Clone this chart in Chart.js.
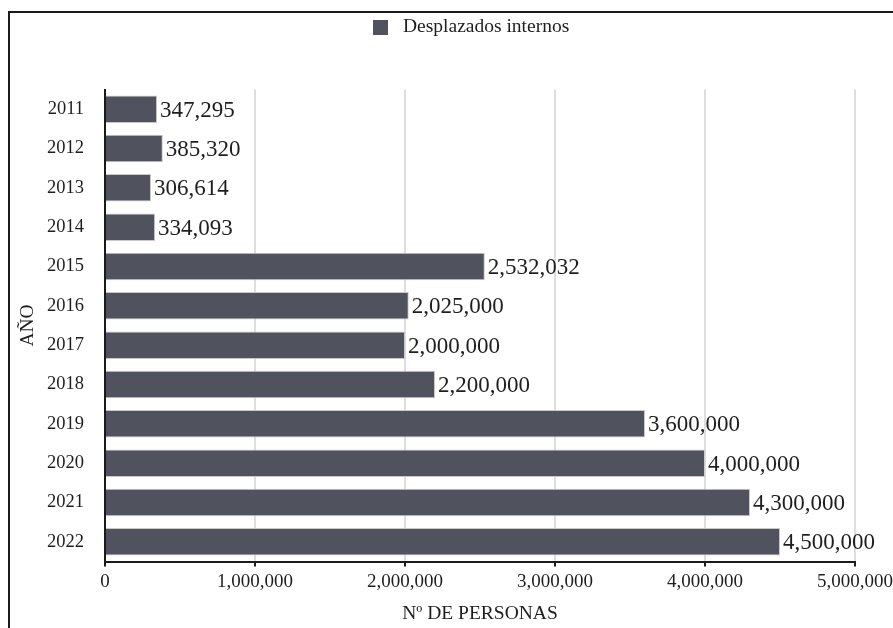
<!DOCTYPE html>
<html>
<head>
<meta charset="utf-8">
<script src="https://cdn.jsdelivr.net/npm/chart.js@4/dist/chart.umd.min.js"></script>
<style>
html,body{margin:0;padding:0;background:#fff;overflow:hidden;}
#wrap{position:relative;width:893px;height:628px;}
</style>
</head>
<body>
<div id="wrap"><canvas id="c" width="893" height="628"></canvas></div>
<script>
const categories = ['2011','2012','2013','2014','2015','2016','2017','2018','2019','2020','2021','2022'];
const desplazados = [347295, 385320, 306614, 334093, 2532032, 2025000, 2000000, 2200000, 3600000, 4000000, 4300000, 4500000];
const seriesLabel = 'Desplazados internos';
const xTitle = 'Nº DE PERSONAS';
const yTitle = 'AÑO';

const FONT = '"Liberation Serif", "Times New Roman", serif';
const BAR = '#50535d';
const TEXT = '#1e1e1e';

const fmt = v => v.toLocaleString('en-US');

const extras = {
  id: 'extras',
  beforeDraw(chart) {
    const ctx = chart.ctx;
    ctx.save();
    ctx.fillStyle = '#fff';
    ctx.fillRect(0, 0, chart.width, chart.height);
    // frame
    ctx.strokeStyle = '#1a1a1a';
    ctx.lineWidth = 2;
    ctx.beginPath();
    ctx.moveTo(9, 640);
    ctx.lineTo(9, 12);
    ctx.lineTo(900, 12);
    ctx.stroke();
    // legend
    const ds = chart.data.datasets[0];
    ctx.fillStyle = ds.backgroundColor;
    ctx.fillRect(373, 20, 15, 15);
    ctx.fillStyle = TEXT;
    ctx.font = '19.5px ' + FONT;
    ctx.textBaseline = 'middle';
    ctx.textAlign = 'left';
    ctx.fillText(ds.label, 403, 27);
    ctx.restore();
  },
  afterDatasetsDraw(chart) {
    const ctx = chart.ctx;
    const meta = chart.getDatasetMeta(0);
    const data = chart.data.datasets[0].data;
    ctx.save();
    ctx.fillStyle = TEXT;
    ctx.font = '23px ' + FONT;
    ctx.textBaseline = 'middle';
    ctx.textAlign = 'left';
    meta.data.forEach((bar, i) => {
      ctx.fillText(fmt(data[i]), bar.x + 3, bar.y + 1.5);
    });
    ctx.restore();
  }
};

new Chart(document.getElementById('c'), {
  type: 'bar',
  data: {
    labels: categories,
    datasets: [{
      label: seriesLabel,
      data: desplazados,
      backgroundColor: BAR,
      borderColor: '#c9c9c9',
      borderWidth: 1,
      barPercentage: 0.7,
      categoryPercentage: 1.0
    }]
  },
  options: {
    indexAxis: 'y',
    responsive: false,
    animation: false,
    devicePixelRatio: 1,
    layout: { padding: { top: 89.5, right: 38, bottom: 0, left: 0 } },
    plugins: { legend: { display: false }, tooltip: { enabled: false } },
    scales: {
      x: {
        min: 0, max: 5000000,
        ticks: {
          stepSize: 1000000,
          color: TEXT,
          font: { family: FONT, size: 19 },
          padding: 4,
          callback: v => fmt(v)
        },
        grid: { color: '#dedede', lineWidth: 2, tickLength: 5, tickColor: '#1a1a1a', tickWidth: 2 },
        border: { display: true, color: '#1a1a1a', width: 2 },
        title: { display: true, text: xTitle, color: TEXT, font: { family: FONT, size: 19.5 }, padding: { top: 2, bottom: 2 } },
        afterFit(scale) { scale.height = 66.5; scale.paddingRight = 0; scale.paddingLeft = 0; }
      },
      y: {
        ticks: { color: TEXT, font: { family: FONT, size: 18.5 }, padding: 21 },
        grid: { display: false, drawTicks: false },
        border: { display: true, color: '#1a1a1a', width: 2 },
        title: { display: true, text: yTitle, color: TEXT, font: { family: FONT, size: 19.5 }, padding: { top: 16, bottom: 0 } },
        afterFit(scale) { scale.width = 105; }
      }
    }
  },
  plugins: [extras]
});
</script>
</body>
</html>
